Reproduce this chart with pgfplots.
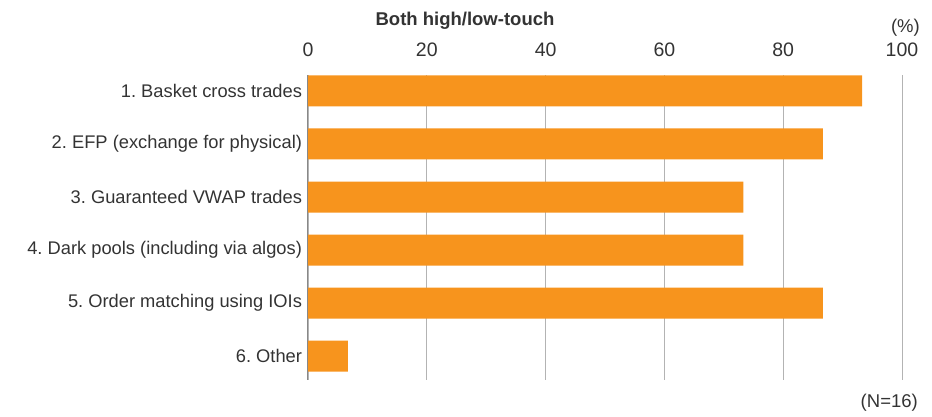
\documentclass[border=0pt]{standalone}
\usepackage{fontspec}
\setmainfont{Liberation Sans}
\usepackage{pgfplots}
\pgfplotsset{compat=1.18}
\usetikzlibrary{calc}
\definecolor{barorange}{HTML}{F7941D}
\definecolor{txt}{HTML}{333333}
\definecolor{gridc}{HTML}{B3B3B3}
\definecolor{axc}{HTML}{888888}
\frenchspacing
\begin{document}
\begin{tikzpicture}
\begin{axis}[
  scale only axis, width=594pt, height=305pt,
  xmin=0, xmax=100, ymin=0.7, ymax=6.45, y dir=reverse,
  xbar, bar width=31pt, bar shift=0pt,
  axis line style={draw=none},
  xtick={0,20,40,60,80,100},
  xticklabel pos=upper,
  /pgf/number format/assume math mode=true,
  xticklabel style={font=\fontsize{19.5}{22}\selectfont, text=txt, yshift=15pt},
  ytick={1,2,3,4,5,6},
  yticklabels={1. Basket cross trades, 2. EFP (exchange for physical), 3. Guaranteed VWAP trades, 4. Dark pools (including via algos), 5. Order matching using IOIs, 6. Other},
  yticklabel style={font=\fontsize{18.3}{22}\selectfont, text=txt, xshift=-2.5pt},
  major tick length=0pt,
  xmajorgrids, major grid style={gridc, line width=0.8pt},
  clip=false,
]
\addplot[fill=barorange, draw=none] coordinates {(93.3,1) (86.7,2) (73.3,3) (73.3,4) (86.7,5) (6.7,6)};
\draw[axc, line width=1pt] (axis cs:0,0.7) -- (axis cs:0,6.45);
\end{axis}
\coordinate (O) at (current axis.north west);
\node[font=\fontsize{18.5}{21}\selectfont\bfseries, text=txt] at ($(O)+(157pt,54pt)$) {Both high/low-touch};
\node[font=\fontsize{18.5}{21}\selectfont, text=txt, anchor=east, inner sep=0pt] at ($(O)+(612pt,47pt)$) {(\%)};
\node[font=\fontsize{18.5}{21}\selectfont, text=txt, anchor=east, inner sep=0pt] at ($(O)+(610pt,-328pt)$) {(N=16)};
\pgfresetboundingbox
\path ($(O)+(-308pt,-341pt)$) rectangle ($(O)+(624pt,75pt)$);
\end{tikzpicture}
\end{document}
